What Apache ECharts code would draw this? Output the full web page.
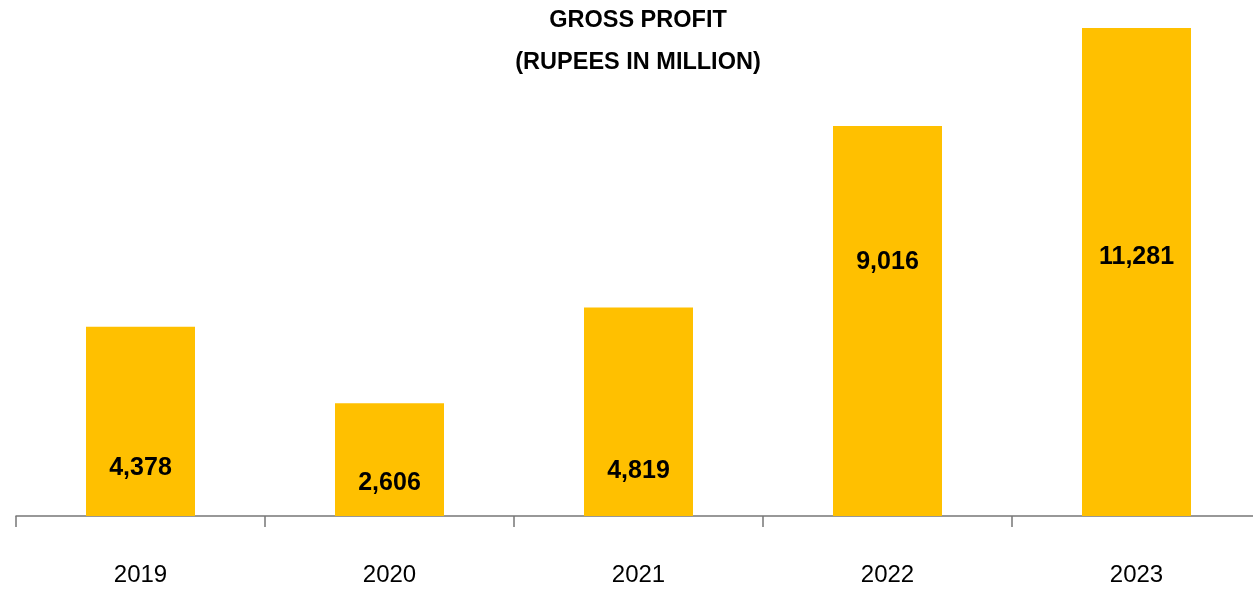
<!DOCTYPE html>
<html>
<head>
<meta charset="utf-8">
<script src="https://cdn.jsdelivr.net/npm/echarts@6/dist/echarts.min.js"></script>
<style>
  html, body { margin: 0; padding: 0; background: #fff; }
  #chart { width: 1253px; height: 589px; }
</style>
</head>
<body>
<div id="chart"></div>
<script>
// data
const years = ['2019', '2020', '2021', '2022', '2023'];
const grossProfit = [4378, 2606, 4819, 9016, 11281];
// how far each value label sits above the bar base (px), as in the original
const labelLift = [35, 20, 32, 241, 246];

const myChart = echarts.init(document.getElementById('chart'));

const option = {
  animation: false,
  textStyle: { fontFamily: 'Liberation Sans, Arial, sans-serif' },
  title: {
    text: 'GROSS PROFIT\n(RUPEES IN MILLION)',
    left: 633,
    top: -5,
    textAlign: 'center',
    textStyle: {
      fontSize: 23.5,
      fontWeight: 'bold',
      color: '#000',
      lineHeight: 42,
      fontFamily: 'Liberation Sans, Arial, sans-serif'
    }
  },
  grid: {
    left: 16,
    width: 1245,
    top: 0,
    bottom: 73,
    containLabel: false,
    outerBoundsMode: 'none'
  },
  xAxis: {
    type: 'category',
    data: years,
    axisLine: { lineStyle: { color: '#777', width: 1.5 } },
    axisTick: { show: true, length: 11, lineStyle: { color: '#777', width: 1.5 } },
    axisLabel: {
      fontSize: 24,
      color: '#000',
      margin: 47,
      interval: 0
    }
  },
  yAxis: {
    type: 'value',
    min: 0,
    max: 11930,
    show: false,
    splitLine: { show: false }
  },
  series: [{
    type: 'bar',
    barWidth: 109,
    itemStyle: { color: '#FFC000' },
    data: grossProfit.map((v, i) => ({
      value: v,
      label: { distance: labelLift[i] }
    })),
    label: {
      show: true,
      position: 'insideBottom',
      fontSize: 25,
      fontWeight: 'bold',
      color: '#000',
      formatter: p => p.value.toLocaleString('en-US')
    }
  }]
};

myChart.setOption(option);
</script>
</body>
</html>
